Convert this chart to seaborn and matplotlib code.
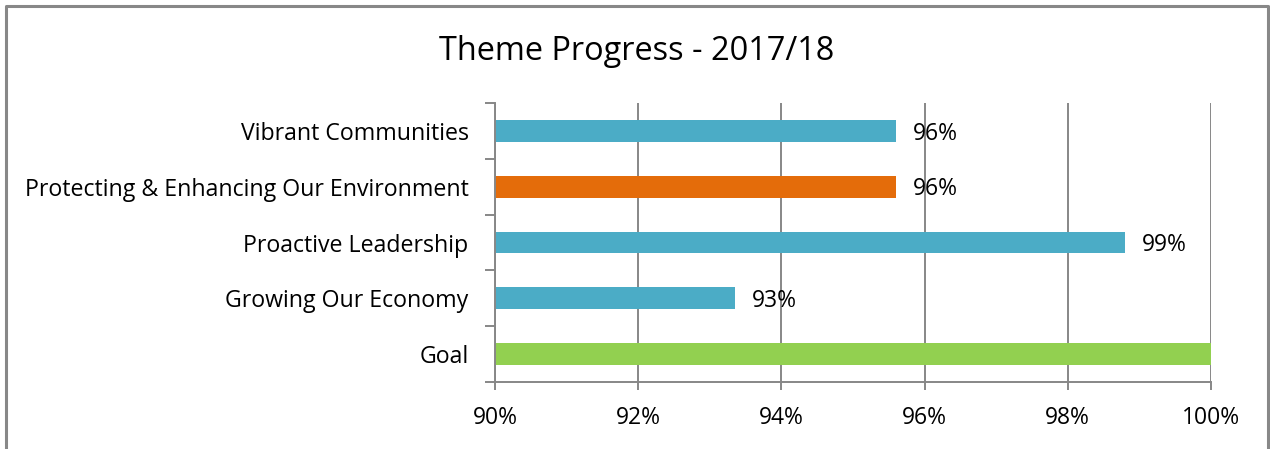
import matplotlib
matplotlib.use("Agg")
import matplotlib.pyplot as plt
from matplotlib.lines import Line2D
from matplotlib.ticker import FuncFormatter, FixedLocator
import seaborn as sns
import pandas as pd

# Theme progress data (percent complete)
themes = ["Vibrant Communities", "Protecting & Enhancing Our Environment",
          "Proactive Leadership", "Growing Our Economy", "Goal"]
progress = [95.6, 95.6, 98.8, 93.35, 100.0]
bar_colors = ["#4BACC6", "#E46C0A", "#4BACC6", "#4BACC6", "#92D050"]
labelled = [True, True, True, True, False]
x_ticks = [90, 92, 94, 96, 98, 100]

sns.set_theme(style="white")
plt.rcParams["font.family"] = ["Open Sans", "DejaVu Sans"]

df = pd.DataFrame({"theme": themes, "progress": progress})

fig = plt.figure(figsize=(12.7, 4.49), dpi=100)
ax = fig.add_axes([495 / 1270, 1 - 382 / 449, (1211 - 495) / 1270, (382 - 103) / 449])

sns.barplot(data=df, y="theme", x="progress", hue="theme", palette=bar_colors,
            orient="h", width=0.39, legend=False, ax=ax, saturation=1,
            edgecolor="none")

ax.set_xlim(90, 100)
ax.set_ylim(len(themes) - 0.5, -0.5)
ax.set_xlabel("")
ax.set_ylabel("")

grid_c = "#878787"
ax.set_xticks(x_ticks)
ax.xaxis.set_major_formatter(FuncFormatter(lambda v, p: f"{v:.0f}%"))
ax.grid(axis="x", color=grid_c, linewidth=1.4)
ax.set_axisbelow(True)

for s in ["top", "right"]:
    ax.spines[s].set_visible(False)
for s in ["left", "bottom"]:
    ax.spines[s].set_color(grid_c)
    ax.spines[s].set_linewidth(1.4)

ax.tick_params(axis="x", which="major", length=6, width=1.4, color=grid_c,
               labelsize=16.5, pad=11, labelcolor="#000000", bottom=True)
ax.yaxis.set_minor_locator(FixedLocator([i - 0.5 for i in range(len(themes) + 1)]))
ax.tick_params(axis="y", which="major", length=0, labelsize=16.7, pad=19,
               labelcolor="#000000")
ax.tick_params(axis="y", which="minor", length=7, width=1.4, color=grid_c, left=True)

for i, (v, show) in enumerate(zip(progress, labelled)):
    if show:
        ax.annotate(f"{v:.0f}%", xy=(v, i), xytext=(12, -2), textcoords="offset points",
                    ha="left", va="center", fontsize=16.5, color="#000000")

fig.text(637 / 1270, 1 - 52 / 449, "Theme Progress - 2017/18", ha="center",
         va="center", fontsize=23.4, color="#000000")

# Outer chart frame (left, top, right edges)
fx = [5.5 / 1270, 5.5 / 1270, 1267.5 / 1270, 1267.5 / 1270]
fy = [0, 1 - 5.5 / 449, 1 - 5.5 / 449, 0]
fig.add_artist(Line2D(fx, fy, transform=fig.transFigure, color="#888888", linewidth=2.2))

fig.savefig("out.png", dpi=100)
